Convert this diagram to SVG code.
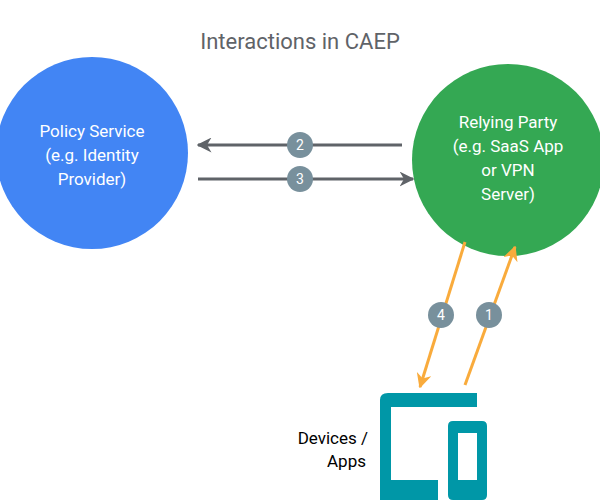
<svg xmlns="http://www.w3.org/2000/svg" width="600" height="500" viewBox="0 0 600 500">
<style>
text{font-family:Roboto,"Liberation Sans",sans-serif}
.lbl{fill:#fff;font-size:17px;text-anchor:middle}
.g{stroke:#5f6368;stroke-width:3;fill:none}
.o{stroke:#f9ab3c;stroke-width:3;fill:none}
.b{fill:#78909c}
.bt{fill:#fff;font-size:14px;text-anchor:middle}
.dev{fill:#0097a7}
</style>
<defs>
<marker id="ag" viewBox="0 0 10 10" refX="9" refY="5" markerWidth="5" markerHeight="5" orient="auto"><path d="M0,0L10,5L0,10L3,5z" fill="#5f6368"/></marker>
<marker id="ao" viewBox="0 0 10 10" refX="9" refY="5" markerWidth="5" markerHeight="5" orient="auto"><path d="M0,0L10,5L0,10L3,5z" fill="#f9ab3c"/></marker>
</defs>
<text x="300" y="49" font-size="22" fill="#5f6368" text-anchor="middle">Interactions in CAEP</text>
<g id="policy"><circle cx="92" cy="153" r="96" fill="#4285f4"/>
<text class="lbl" x="92" y="137">Policy Service</text><text class="lbl" x="92" y="161">(e.g. Identity</text><text class="lbl" x="92" y="185">Provider)</text></g>
<g id="relying"><circle cx="508" cy="160" r="96" fill="#34a853"/>
<text class="lbl" x="508" y="128">Relying Party</text><text class="lbl" x="508" y="152">(e.g. SaaS App</text><text class="lbl" x="508" y="176">or VPN</text><text class="lbl" x="508" y="200">Server)</text></g>
<g id="devices">
<path class="dev" d="M388,393H477V407H391V480H438V500H380V400Q380,393 388,393z"/>
<path class="dev" fill-rule="evenodd" d="M453,421H482Q487,421 487,426V495Q487,500 482,500H453Q448,500 448,495V426Q448,421 453,421zM458,433V480H477V433z"/>
<text x="368" y="444" font-size="17" fill="#000" text-anchor="end">Devices /</text>
<text x="366" y="467" font-size="17" fill="#000" text-anchor="end">Apps</text>
</g>
<g id="connectors">
<line class="g" x1="402" y1="145" x2="198" y2="145" marker-end="url(#ag)"/>
<line class="g" x1="198" y1="179" x2="413" y2="179" marker-end="url(#ag)"/>
<line class="o" x1="465" y1="242" x2="420" y2="387" marker-end="url(#ao)"/>
<line class="o" x1="465" y1="385" x2="515" y2="247" marker-end="url(#ao)"/>
<circle class="b" cx="300" cy="145" r="13"/><text class="bt" x="300" y="150">2</text>
<circle class="b" cx="300" cy="179" r="13"/><text class="bt" x="300" y="184">3</text>
<circle class="b" cx="441" cy="315" r="13"/><text class="bt" x="441" y="320">4</text>
<circle class="b" cx="489" cy="315" r="13"/><text class="bt" x="489" y="320">1</text>
</g>
</svg>
